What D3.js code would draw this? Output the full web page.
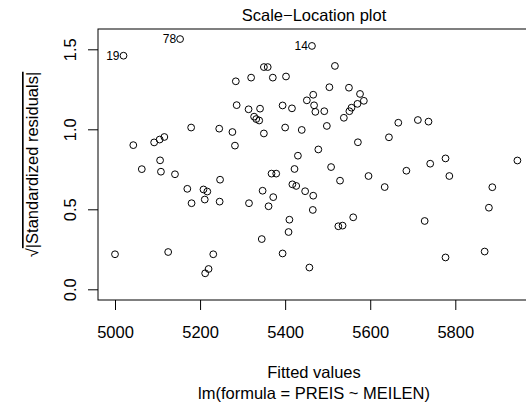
<!DOCTYPE html>
<html><head><meta charset="utf-8">
<script src="https://cdn.jsdelivr.net/npm/d3@7"></script>
<style>
html,body{margin:0;padding:0;background:#fff;}
svg{display:block;}
text{font-family:"Liberation Sans",Arial,Helvetica,sans-serif;fill:#000;}
</style>
</head><body>
<svg id="c" width="526" height="405"></svg>
<script>
// ---- data ----
const fitted = [5020,5153,5463,5350,5359,5320,5284,5371,5402,5286,
  5314,5341,5394,5416,5327,5332,5339,5179,5245,5276,
  5350,5400,5439,5043,5092,5105,5116,5282,5430,5517,
  5504,5550,5576,5585,5570,5556,5551,5538,5451,5466,
  5468,5471,5492,5498,5571,5644,5666,5712,5737,5478,
  5741,5777,5786,5946,5887,5879,5728,5869,5777,5422,
  5508,5529,5596,5685,5417,5426,5447,5466,5634,5465,
  5410,5408,5525,5535,5560,5457,5063,5106,5108,5141,
  5170,5208,5217,5247,5180,5211,5246,5315,5347,5372,
  5361,5368,5379,5345,5394,5000,5125,5231,5220,5212];
const sqrtStdResid = [1.460,1.564,1.521,1.389,1.389,1.323,1.300,1.323,1.330,1.151,
  1.125,1.129,1.149,1.131,1.079,1.064,1.055,1.011,1.004,0.983,
  0.974,1.011,0.996,0.901,0.918,0.936,0.952,0.898,0.835,1.396,
  1.263,1.260,1.221,1.178,1.159,1.135,1.113,1.072,1.181,1.216,
  1.150,1.109,1.113,1.021,0.919,0.950,1.041,1.058,1.048,0.874,
  0.785,0.818,0.708,0.805,0.638,0.510,0.427,0.236,0.199,0.752,
  0.764,0.679,0.708,0.741,0.656,0.646,0.613,0.585,0.639,0.496,
  0.435,0.358,0.394,0.398,0.450,0.136,0.751,0.806,0.735,0.719,
  0.628,0.624,0.611,0.685,0.538,0.561,0.548,0.538,0.616,0.576,
  0.519,0.723,0.723,0.314,0.224,0.219,0.233,0.219,0.127,0.100];
const idLabels = ["19","78","14"];
const idIndex = [0,1,2];
const xTicks = [5000,5200,5400,5600,5800];
const yTicks = [0,0.5,1,1.5];
const yTickLabels = ["0.0","0.5","1.0","1.5"];
const titleText = "Scale\u2212Location plot";
const xLabelText = "Fitted values";
const subText = "lm(formula = PREIS ~ MEILEN)";
const yLabelInner = "|Standardized residuals|";

// ---- layout ----
const box = {left:98, top:29, right:530, bottom:300};
const fs = 16.5;
const svg = d3.select("#c");
const x = d3.scaleLinear().domain([5000,5800]).range([115,455.3]);
const y = d3.scaleLinear().domain([0,1.5]).range([289.3,49.3]);

// box
svg.append("rect").attr("x",box.left).attr("y",box.top)
  .attr("width",box.right-box.left).attr("height",box.bottom-box.top)
  .attr("fill","none").attr("stroke","#000").attr("stroke-width",1);

// x axis
const gx = svg.append("g").attr("transform",`translate(0,${box.bottom})`)
  .call(d3.axisBottom(x).tickValues(xTicks).tickSize(10).tickFormat(d3.format("d")));
gx.select(".domain").remove();
gx.selectAll(".tick line").attr("stroke","#000");
gx.selectAll(".tick text").attr("y",38).attr("dy",null)
  .style("font-size",fs+"px").style("font-family",'"Liberation Sans",Arial,sans-serif').attr("fill","#000");

// y axis
const gy = svg.append("g").attr("transform",`translate(${box.left},0)`)
  .call(d3.axisLeft(y).tickValues(yTicks).tickSize(10).tickFormat((d,i)=>yTickLabels[i]));
gy.select(".domain").remove();
gy.selectAll(".tick line").attr("stroke","#000");
gy.selectAll(".tick text").attr("x",0).attr("y",-22).attr("dy",null)
  .attr("transform","rotate(-90)").attr("text-anchor","middle")
  .style("font-size",fs+"px").style("font-family",'"Liberation Sans",Arial,sans-serif').attr("fill","#000");

// points
svg.append("g").selectAll("circle").data(fitted).join("circle")
  .attr("cx",(d)=>x(d)).attr("cy",(d,i)=>y(sqrtStdResid[i]))
  .attr("r",3.4).attr("fill","none").attr("stroke","#000").attr("stroke-width",1);

// id labels
svg.append("g").selectAll("text").data(idIndex).join("text")
  .attr("x",(d)=>x(fitted[d])-4).attr("y",(d)=>y(sqrtStdResid[d]))
  .attr("dy","0.35em").attr("text-anchor","end").style("font-size","12px")
  .text((d,i)=>idLabels[i]);

// title
svg.append("text").attr("x",(box.left+box.right)/2).attr("y",20.5)
  .attr("text-anchor","middle").style("font-size",fs+"px").text(titleText);
// x label and sub
svg.append("text").attr("x",(box.left+box.right)/2).attr("y",378)
  .attr("text-anchor","middle").style("font-size",fs+"px").text(xLabelText);
svg.append("text").attr("x",(box.left+box.right)/2).attr("y",398.5)
  .attr("text-anchor","middle").style("font-size",fs+"px").text(subText);
// y label
const yl = svg.append("text").attr("transform",`translate(38,${(box.top+box.bottom)/2}) rotate(-90)`)
  .attr("text-anchor","middle").style("font-size",fs+"px");
yl.append("tspan").text("\u221A");
yl.append("tspan").style("text-decoration","overline").text(yLabelInner);
</script>
</body></html>
